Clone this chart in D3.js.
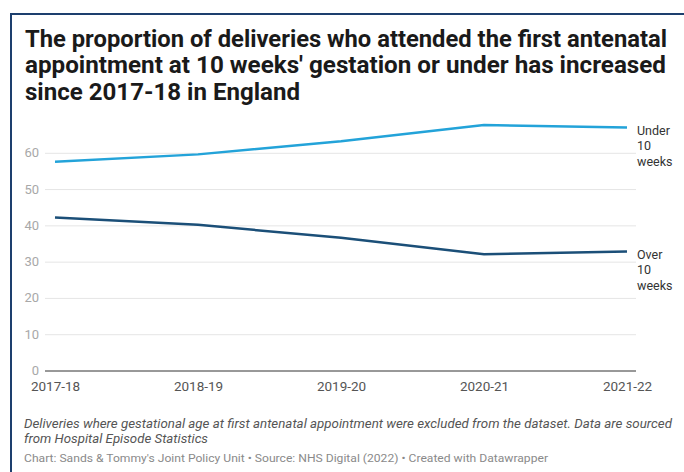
<!DOCTYPE html>
<html>
<head>
<meta charset="utf-8">
<script src="https://cdn.jsdelivr.net/npm/d3@7"></script>
<style>
  html, body { margin: 0; padding: 0; background: #fff; }
  svg { display: block; font-family: Roboto, "Noto Sans", sans-serif; }
</style>
</head>
<body>
<svg id="chart" width="684" height="472"></svg>
<script>
const categories = ["2017-18", "2018-19", "2019-20", "2020-21", "2021-22"];
const under10 = [57.7, 59.7, 63.3, 67.8, 67.1];
const over10 = [42.3, 40.3, 36.7, 32.2, 32.9];
const yTicks = [0, 10, 20, 30, 40, 50, 60];
const titleLines = [
  "The proportion of deliveries who attended the first antenatal",
  "appointment at 10 weeks' gestation or under has increased",
  "since 2017-18 in England"
];
const noteLines = [
  "Deliveries where gestational age at first antenatal appointment were excluded from the dataset. Data are sourced",
  "from Hospital Episode Statistics"
];
const credit = "Chart: Sands & Tommy's Joint Policy Unit \u2022 Source: NHS Digital (2022) \u2022 Created with Datawrapper";
const seriesLabels = [["Under", "10", "weeks"], ["Over", "10", "weeks"]];

const svg = d3.select("#chart");

// frame border
svg.append("rect")
  .attr("x", 11).attr("y", 14).attr("width", 700).attr("height", 500)
  .attr("fill", "none").attr("stroke", "#1d3f6e").attr("stroke-width", 2);

// title
const titleW = [642, 641, 275];
svg.append("g").selectAll("text").data(titleLines).join("text")
  .attr("x", 25).attr("y", (d, i) => 47 + i * 26.3)
  .attr("font-size", 24).attr("font-weight", 700).attr("fill", "#1a1a1a")
  .attr("textLength", (d, i) => titleW[i]).attr("lengthAdjust", "spacingAndGlyphs")
  .text(d => d);

const x = d3.scalePoint().domain(categories).range([55, 627]);
const y = d3.scaleLinear().domain([0, 70]).range([371, 117]);
const gridX0 = 45, gridX1 = 636;

// gridlines
svg.append("g").selectAll("line").data(yTicks.filter(t => t > 0)).join("line")
  .attr("x1", gridX0).attr("x2", gridX1)
  .attr("y1", d => y(d)).attr("y2", d => y(d))
  .attr("stroke", "#e5e5e5").attr("stroke-width", 1);

// baseline
svg.append("line")
  .attr("x1", gridX0).attr("x2", gridX1).attr("y1", y(0)).attr("y2", y(0))
  .attr("stroke", "#333").attr("stroke-width", 1);

// y tick labels
svg.append("g").selectAll("text").data(yTicks).join("text")
  .attr("x", 39).attr("y", d => y(d) - 0.5).attr("dy", "0.35em")
  .attr("text-anchor", "end").attr("font-size", 13).attr("fill", "#a8a8a8")
  .text(d => d);

// x axis labels
const xa = d3.axisBottom(x).tickSize(0).tickPadding(0);
const gx = svg.append("g").attr("transform", `translate(0,${y(0)})`).call(xa);
gx.select(".domain").remove();
gx.selectAll("text")
  .attr("y", 19.5).attr("dy", 0)
  .attr("font-size", 13.5).attr("fill", "#555")
  .attr("font-family", "Roboto, sans-serif")
  .attr("text-anchor", "middle");

// lines
const line = d3.line().x((d, i) => x(categories[i])).y(d => y(d)).curve(d3.curveLinear);
const series = [
  { values: under10, color: "#23a3d9" },
  { values: over10, color: "#1b4f78" }
];
svg.append("g").selectAll("path").data(series).join("path")
  .attr("d", d => line(d.values))
  .attr("fill", "none").attr("stroke", d => d.color).attr("stroke-width", 2.5)
  .attr("stroke-linejoin", "round").attr("stroke-linecap", "butt");

// series labels
const labelYOffsets = [under10[under10.length - 1], over10[over10.length - 1]];
seriesLabels.forEach((lines, si) => {
  const baseY = y(labelYOffsets[si]) + 3;
  svg.append("g").selectAll("text").data(lines).join("text")
    .attr("x", 637).attr("y", (d, i) => baseY + i * 15.5)
    .attr("dy", "0.35em")
    .attr("font-size", 12.5).attr("fill", "#333")
    .text(d => d);
});

// notes
const noteW = [648, 184];
svg.append("g").selectAll("text").data(noteLines).join("text")
  .attr("x", 24).attr("y", (d, i) => 427.5 + i * 15.3)
  .attr("font-size", 12.2).attr("font-style", "italic").attr("fill", "#555")
  .attr("textLength", (d, i) => noteW[i]).attr("lengthAdjust", "spacingAndGlyphs")
  .text(d => d);

svg.append("text")
  .attr("x", 24).attr("y", 462.3)
  .attr("font-size", 11.5).attr("fill", "#8a8a8a")
  .attr("textLength", 524).attr("lengthAdjust", "spacingAndGlyphs")
  .text(credit);
</script>
</body>
</html>
